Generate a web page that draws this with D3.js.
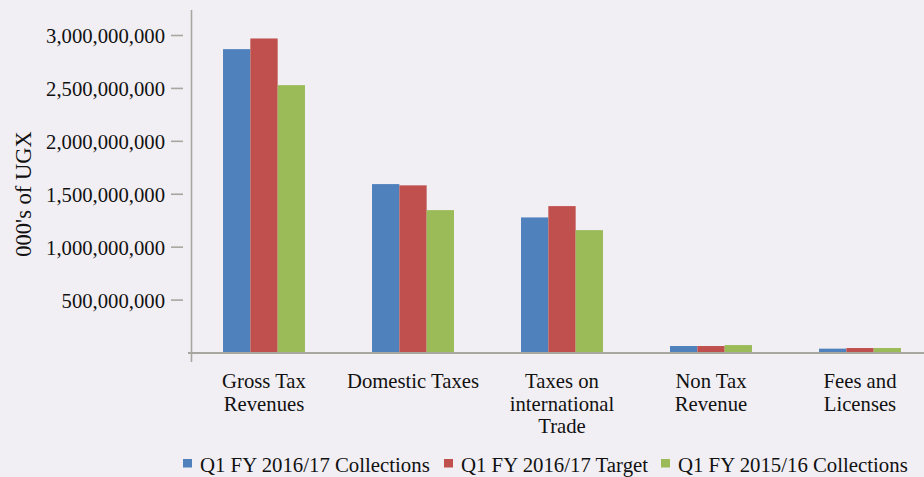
<!DOCTYPE html>
<html>
<head>
<meta charset="utf-8">
<script src="https://cdn.jsdelivr.net/npm/d3@7"></script>
<style>
  html, body { margin: 0; padding: 0; background: #F1EFF4; }
  svg { display: block; }
</style>
</head>
<body>
<svg id="chart" width="924" height="477"></svg>
<script>
// Revenue categories (x axis), with line breaks for the wrapped labels
const categories = ["Gross Tax Revenues", "Domestic Taxes", "Taxes on international Trade", "Non Tax Revenue", "Fees and Licenses"];
const categoryLines = [["Gross Tax", "Revenues"], ["Domestic Taxes"], ["Taxes on", "international", "Trade"], ["Non Tax", "Revenue"], ["Fees and", "Licenses"]];

// Series names and values, in 000's of UGX
const seriesNames = ["Q1 FY 2016/17 Collections", "Q1 FY 2016/17 Target", "Q1 FY 2015/16 Collections"];
const collections1617 = [2871000000, 1596000000, 1281000000, 66000000, 41000000];
const target1617      = [2972000000, 1584000000, 1388000000, 66000000, 47000000];
const collections1516 = [2531000000, 1350000000, 1161000000, 75000000, 47000000];
const seriesColors = ["#4F81BD", "#C0504D", "#9BBB59"];

// Y axis tick values and labels
const yTicks = [500000000, 1000000000, 1500000000, 2000000000, 2500000000, 3000000000];

const seriesValues = [collections1617, target1617, collections1516];
const FONT = "'Liberation Serif', Tinos, 'Times New Roman', Times, serif";
const svg = d3.select("#chart")
  .attr("font-family", FONT)
  .style("font-family", FONT);
const axisColor = "#A8A69F";

const x0 = d3.scaleBand().domain(categories).range([189.5, 934.5]).paddingInner(0.45).paddingOuter(0.225);
const x1 = d3.scaleBand().domain(seriesNames).range([0, x0.bandwidth()]);
const y = d3.scaleLinear().domain([0, 3000000000]).range([353, 35.5]);
const fmt = d3.format(",");

// Bars
const groups = svg.append("g").selectAll("g")
  .data(categories)
  .join("g")
  .attr("transform", d => `translate(${x0(d)},0)`);

groups.selectAll("rect")
  .data((d, i) => seriesNames.map((s, j) => ({ series: s, value: seriesValues[j][i], color: seriesColors[j] })))
  .join("rect")
  .attr("x", d => x1(d.series))
  .attr("width", x1.bandwidth())
  .attr("y", d => y(d.value))
  .attr("height", d => y(0) - y(d.value))
  .attr("fill", d => d.color);

// Y axis line and detached tick marks
svg.append("line")
  .attr("x1", 191.5).attr("x2", 191.5).attr("y1", 10).attr("y2", 362)
  .attr("stroke", axisColor).attr("stroke-width", 1.6);

const yTickG = svg.append("g").selectAll("g")
  .data(yTicks)
  .join("g")
  .attr("transform", d => `translate(0,${y(d)})`);
yTickG.append("line")
  .attr("x1", 171).attr("x2", 183)
  .attr("stroke", axisColor).attr("stroke-width", 1.6);
yTickG.append("text")
  .attr("x", 165)
  .attr("dy", "0.36em")
  .attr("text-anchor", "end")
  .style("font-family", FONT)
  .style("font-size", "20.7px")
  .attr("fill", "#111")
  .text(d => fmt(d));

// Baseline (category axis)
svg.append("line")
  .attr("x1", 188).attr("x2", 924).attr("y1", y(0)).attr("y2", y(0))
  .attr("stroke", axisColor).attr("stroke-width", 2);

// Category labels
svg.append("g").selectAll("text")
  .data(categories)
  .join("text")
  .attr("text-anchor", "middle")
  .style("font-family", FONT)
  .style("font-size", "20.7px")
  .attr("fill", "#111")
  .attr("x", d => x0(d) + x0.bandwidth() / 2)
  .attr("y", 388)
  .each(function (d, i) {
    const t = d3.select(this);
    categoryLines[i].forEach((line, k) => {
      t.append("tspan")
        .attr("x", x0(d) + x0.bandwidth() / 2)
        .attr("dy", k === 0 ? 0 : 22.5)
        .text(line);
    });
  });

// Y axis title
svg.append("text")
  .attr("transform", "translate(31,194) rotate(-90)")
  .attr("text-anchor", "middle")
  .style("font-family", FONT)
  .style("font-size", "22.5px")
  .attr("fill", "#111")
  .text("000's of UGX");

// Legend
const legendX = [183, 444, 661];
const legend = svg.append("g").selectAll("g")
  .data(seriesNames)
  .join("g")
  .attr("transform", (d, i) => `translate(${legendX[i]},0)`);
legend.append("rect")
  .attr("x", 0).attr("y", 459).attr("width", 9).attr("height", 8.5)
  .attr("fill", (d, i) => seriesColors[i]);
legend.append("text")
  .attr("x", 17).attr("y", 471.5)
  .style("font-family", FONT)
  .style("font-size", "20.8px")
  .attr("fill", "#111")
  .text(d => d);
</script>
</body>
</html>
